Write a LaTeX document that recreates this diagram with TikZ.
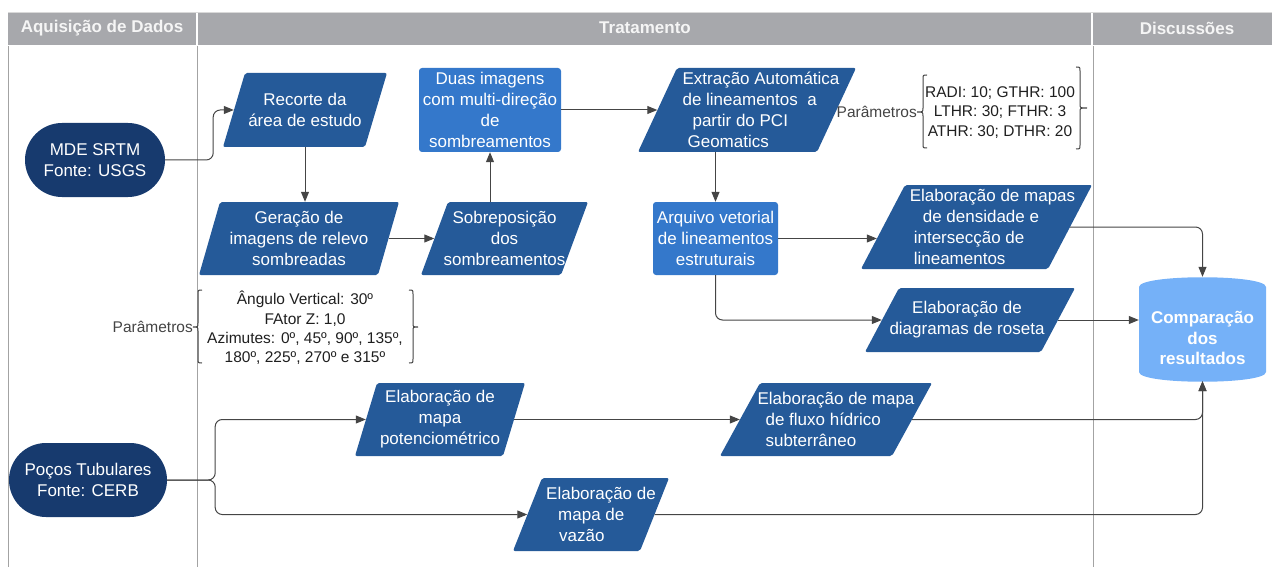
\documentclass[tikz,border=0pt]{standalone}
\usepackage{fontspec}
\setmainfont{Liberation Sans}
\usetikzlibrary{arrows.meta,calc}
\definecolor{navy}{HTML}{173A6E}
\definecolor{pblue}{HTML}{255A99}
\definecolor{lblue}{HTML}{3478CB}
\definecolor{cylblue}{HTML}{75B1F8}
\definecolor{hdgray}{HTML}{A7A8AC}
\definecolor{lanegray}{HTML}{A3A3A3}
\definecolor{conncol}{HTML}{454545}
\definecolor{txtgray}{HTML}{444444}
\tikzset{
  boxfont/.style={font=\fontsize{17}{21}\selectfont},
  boxtext/.style={boxfont, text=white, inner sep=0pt, align=center},
  anchorbox/.style={inner sep=0pt, draw=none},
  stadium/.style={boxtext, fill=navy, rounded corners=37pt, minimum height=74pt},
  rectbox/.style={boxtext, fill=lblue, rounded corners=3pt},
  conn/.style={draw=conncol, line width=1pt, rounded corners=7pt, -{Triangle[length=10pt,width=8pt]}},
  hdtext/.style={font=\fontsize{17}{20}\selectfont\bfseries, text=white!96!black, inner sep=0pt},
  lane/.style={draw=lanegray, line width=1pt},
  bracecol/.style={draw=txtgray, line width=1pt},
  paramtext/.style={font=\fontsize{15.5}{19.4}\selectfont, text=black!88, align=center, inner sep=0pt},
  paramlabel/.style={font=\fontsize{15.5}{19}\selectfont, text=txtgray, inner sep=0pt},
}
% #1 name, #2 top, #3 bottom, #4 top-left x, #5 top-right x, #6 slant, #7 text x offset, #8 align, #9 text
\newcommand\pgram[9]{%
  \fill[pblue, rounded corners=2pt] (#4,#2) -- (#5,#2) -- ({#5-#6},#3) -- ({#4-#6},#3) -- cycle;
  \node[anchorbox, minimum width={#5-#4}, minimum height={#3-#2}] (#1) at ({(#4+#5-#6)/2},{(#2+#3)/2}) {};
  \node[boxtext, align=#8] (#1t) at ($(#1)+(#7,0)$) {#9};
}
\begin{document}
\begin{tikzpicture}[x=1pt,y=-1pt]
\useasboundingbox (0,0) rectangle (1272,567);
% header and lanes
\fill[hdgray] (8,13) rectangle (1272,45);
\draw[black!15, line width=0.8pt] (8,12.5) -- (1272,12.5);
\draw[white, line width=1.5pt] (197,13) -- (197,45);
\draw[white, line width=1.5pt] (1092,13) -- (1092,45);
\draw[lane] (8,46) -- (8,567);
\draw[lane] (197,46) -- (197,567);
\draw[lane] (1093,46) -- (1093,567);
\node[hdtext] (h1) at (102,28) {Aquisição de Dados};
\node[hdtext] (h2) at (645,28) {Tratamento};
\node[hdtext] (h3) at (1187,28) {Discussões};

% start nodes
\node[stadium, minimum width=140pt] (mde) at (95,160) {MDE SRTM\\Fonte: USGS};
\node[stadium, minimum width=158pt] (poc) at (88,480) {Poços Tubulares\\Fonte: CERB};

% parallelograms
\pgram{rec}{73}{147}{245}{387}{22}{0}{center}{Recorte da\\área de estudo}
\pgram{ger}{202}{275}{220}{399}{21}{0}{center}{Geração de\\imagens de relevo\\sombreadas}
\pgram{sob}{202}{275}{448}{588}{27}{0}{center}{Sobreposição\\dos\\sombreamentos}
\pgram{ext}{68}{152}{677}{856}{39}{14}{left}{Extração Automática\\de lineamentos~ a\\\hspace*{10pt}partir do PCI\\\hspace*{5pt}Geomatics}
\pgram{den}{185}{269}{905}{1092}{44}{16}{left}{Elaboração de mapas\\\hspace*{13pt}de densidade e\\\hspace*{4pt}intersecção de\\\hspace*{4pt}lineamentos}
\pgram{ros}{288}{352}{899}{1075}{34}{-3}{center}{Elaboração de\\diagramas de roseta}
\pgram{pot}{383}{456}{377}{525}{22}{0}{center}{Elaboração de\\mapa\\potenciométrico}
\pgram{flu}{383}{456}{760}{932}{40}{10}{left}{Elaboração de mapa\\\hspace*{8pt}de fluxo hídrico\\\hspace*{8pt}subterrâneo}
\pgram{vaz}{478}{551}{542}{669}{29}{10}{left}{Elaboração de\\\hspace*{12pt}mapa de\\\hspace*{13pt}vazão}

% rectangles
\node[rectbox, minimum width=142pt, minimum height=84pt] (dua) at (490,110) {Duas imagens\\com multi-direção\\de\\sombreamentos};
\node[rectbox, minimum width=125pt, minimum height=73pt] (arq) at (715.5,238.5) {Arquivo vetorial\\de lineamentos\\estruturais};

% cylinder
\fill[cylblue] (1139,287) .. controls (1139,274) and (1266,274) .. (1266,287) -- (1266,372) .. controls (1266,385) and (1139,385) .. (1139,372) -- cycle;
\node[anchorbox, minimum width=127pt, minimum height=104pt] (cmp) at (1202.5,329) {};
\node[boxtext, font=\fontsize{17}{20.5}\selectfont\bfseries] (cmpt) at (1202.5,338) {Comparação\\dos\\resultados};

% parameters top
\node[paramlabel, anchor=east] (pl1) at (917,112) {Parâmetros};
\draw[bracecol] (927,75) .. controls (923,75) .. (923,79) -- (923,108) .. controls (923,112) .. (917,112) .. controls (923,112) .. (923,116) -- (923,144) .. controls (923,148) .. (927,148);
\node[paramtext] (pv1) at (1000,112.5) {RADI: 10; GTHR: 100\\LTHR: 30; FTHR: 3\\ATHR: 30; DTHR: 20};
\draw[bracecol] (1076,67) .. controls (1080,67) .. (1080,71) -- (1080,104) .. controls (1080,108) .. (1087,108) .. controls (1080,108) .. (1080,112) -- (1080,145) .. controls (1080,149) .. (1076,149);

% parameters bottom
\node[paramlabel, anchor=east] (pl2) at (193,327) {Parâmetros};
\draw[bracecol] (202,290) .. controls (198,290) .. (198,294) -- (198,323) .. controls (198,327) .. (193,327) .. controls (198,327) .. (198,331) -- (198,359) .. controls (198,363) .. (202,363);
\node[paramtext] (pv2) at (305,328) {Ângulo Vertical: 30º\\FAtor Z: 1,0\\Azimutes: 0º, 45º, 90º, 135º,\\180º, 225º, 270º e 315º};
\draw[bracecol] (409,290) .. controls (413,290) .. (413,294) -- (413,323) .. controls (413,327) .. (418,327) .. controls (413,327) .. (413,331) -- (413,359) .. controls (413,363) .. (409,363);

% connectors
\draw[conn] (mde.east) -- ++(48,0) |- (rec.west);
\draw[conn] (rec.south) -- (rec.south |- ger.north);
\draw[conn] (ger.east) -- (sob.west);
\draw[conn] (sob.north -| dua.south) -- (dua.south);
\draw[conn] (dua.east) -- (ext.west);
\draw[conn] (ext.south -| arq.north) -- (arq.north);
\draw[conn, shorten >=6pt] (arq.east) -- (arq.east -| den.west);
\draw[conn] (arq.south) |- (ros.west);
\draw[conn] (den.east) -| (cmp.north);
\draw[conn] (ros.east) -- (ros.east -| cmp.west);
\draw[conn] (poc.east) -- ++(48,0) |- (pot.west);
\draw[conn] (poc.east) -- ++(48,0) |- (vaz.west);
\draw[conn] (pot.east) -- (flu.west);
\draw[conn] (flu.east) -| (cmp.south);
\draw[conn] (vaz.east) -| (cmp.south);
\end{tikzpicture}
\end{document}
